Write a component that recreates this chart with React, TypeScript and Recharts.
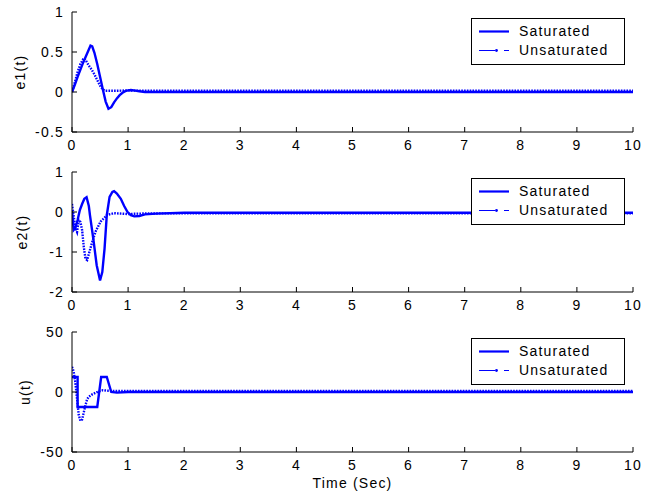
import React from 'react';
import { LineChart, Line, XAxis, YAxis, Legend, Label } from 'recharts';

const BLUE = '#0000ff';
const FONT = '"Liberation Sans", Arial, Helvetica, sans-serif';

const timeTicks = [0, 1, 2, 3, 4, 5, 6, 7, 8, 9, 10];
const e1Ticks = [-0.5, 0, 0.5, 1];
const e2Ticks = [-2, -1, 0, 1];
const uTicks = [-50, 0, 50];
const seriesNames = ['Saturated', 'Unsaturated'];
const yLabels = ['e1(t)', 'e2(t)', 'u(t)'];
const xTitle = 'Time (Sec)';

// e1(t)
const e1SatT = [0, 0.05, 0.1, 0.15, 0.2, 0.25, 0.3, 0.33, 0.36, 0.4, 0.45, 0.5, 0.55, 0.6, 0.65, 0.7, 0.75, 0.8, 0.85, 0.9, 0.95, 1.0, 1.05, 1.1, 1.2, 1.3, 2, 10];
const e1SatV = [0, 0.09, 0.19, 0.28, 0.37, 0.45, 0.53, 0.58, 0.57, 0.49, 0.35, 0.19, 0.03, -0.12, -0.21, -0.19, -0.13, -0.08, -0.04, -0.01, 0.01, 0.02, 0.025, 0.02, 0.01, 0, 0, 0];
const e1UnsatT = [0, 0.05, 0.1, 0.15, 0.2, 0.22, 0.25, 0.3, 0.35, 0.4, 0.45, 0.5, 0.55, 0.6, 0.8, 1.0, 1.2, 2, 10];
const e1UnsatV = [0, 0.12, 0.25, 0.35, 0.41, 0.42, 0.39, 0.33, 0.28, 0.22, 0.15, 0.08, 0.03, 0.015, 0.015, 0.02, 0.015, 0.015, 0.015];

// e2(t)
const e2SatT = [0, 0.03, 0.06, 0.1, 0.14, 0.18, 0.22, 0.26, 0.3, 0.32, 0.38, 0.44, 0.5, 0.54, 0.58, 0.62, 0.67, 0.72, 0.75, 0.8, 0.87, 0.93, 0.99, 1.05, 1.11, 1.2, 1.3, 1.5, 2, 10];
const e2SatV = [0.05, -0.45, -0.4, -0.2, 0.05, 0.2, 0.33, 0.37, 0.15, -0.08, -0.67, -1.33, -1.71, -1.5, -0.92, -0.08, 0.38, 0.5, 0.52, 0.46, 0.33, 0.15, 0, -0.08, -0.11, -0.1, -0.06, -0.04, -0.02, -0.02];
const e2UnsatT = [0, 0.03, 0.06, 0.09, 0.12, 0.15, 0.18, 0.21, 0.24, 0.27, 0.3, 0.33, 0.36, 0.42, 0.51, 0.63, 0.75, 1.0, 1.2, 2, 10];
const e2UnsatV = [0.2, -0.1, -0.4, -0.5, -0.2, -0.25, -0.45, -0.87, -1.17, -1.2, -1.05, -0.9, -0.75, -0.49, -0.24, -0.07, -0.03, -0.05, -0.04, -0.03, -0.03];

// u(t)
const uSatT = [0, 0.1, 0.1, 0.45, 0.52, 0.62, 0.7, 0.8, 1.0, 10];
const uSatV = [12.5, 12.5, -12.5, -12.5, 12.5, 12.5, 0, -0.5, 0, 0];
const uUnsatT = [0, 0.03, 0.06, 0.09, 0.12, 0.15, 0.18, 0.21, 0.24, 0.27, 0.3, 0.36, 0.45, 0.55, 0.65, 0.8, 1.0, 10];
const uUnsatV = [21, 17, 8, -6, -19, -24, -23, -17, -11, -6, -4, -2, 0, 1.5, 1, 0.8, 0.8, 0.8];

const zip = (ts: number[], vs: number[]) => ts.map((t, i) => ({ t, v: vs[i] }));

const axisStyle = { stroke: '#000', strokeWidth: 1 };
const tickStyle = { fill: '#000', fontSize: 14, fontFamily: FONT };

const LegendBox = () => (
  <svg width={155} height={48} style={{ display: 'block', letterSpacing: '1.2px' }}>
    <rect x={0.5} y={0.5} width={153} height={46} fill="#fff" stroke="#000" strokeWidth={1} />
    <line x1={8} y1={13.5} x2={38} y2={13.5} stroke={BLUE} strokeWidth={2.2} />
    <text x={48} y={18} fontSize={14} fontFamily={FONT} fill="#000">{seriesNames[0]}</text>
    <line x1={8} y1={32.5} x2={24} y2={32.5} stroke={BLUE} strokeWidth={1} />
    <circle cx={25.5} cy={32.5} r={1.4} fill={BLUE} />
    <line x1={33} y1={32.5} x2={38} y2={32.5} stroke={BLUE} strokeWidth={1} />
    <text x={48} y={37} fontSize={14} fontFamily={FONT} fill="#000">{seriesNames[1]}</text>
  </svg>
);

type PanelProps = {
  top: number;
  height: number;
  xAxisHeight: number;
  yLabel: string;
  yLabelX: number;
  yDomain: [number, number];
  yTicks: number[];
  sat: { t: number; v: number }[];
  unsat: { t: number; v: number }[];
  showTitle?: boolean;
};

function Panel({ top, height, xAxisHeight, yLabel, yLabelX, yDomain, yTicks, sat, unsat, showTitle }: PanelProps) {
  return (
    <div style={{ position: 'absolute', left: 0, top, letterSpacing: '1.2px', fontFamily: FONT }}>
      <LineChart width={656} height={height} margin={{ top: 12, right: 23, bottom: 0, left: 0 }}>
        <XAxis
          dataKey="t"
          type="number"
          domain={[0, 10]}
          ticks={timeTicks}
          interval={0}
          allowDataOverflow
          tickSize={-5}
          tickMargin={13}
          tick={tickStyle}
          axisLine={axisStyle}
          tickLine={axisStyle}
          height={xAxisHeight}
        >
          {showTitle ? (
            <Label
              content={(p: any) => {
                const vb = p.viewBox || { x: 72, y: 132, width: 561 };
                return (
                  <text x={vb.x + vb.width / 2} y={vb.y + 36} textAnchor="middle" fontSize={14} fontFamily={FONT} fill="#000">
                    {xTitle}
                  </text>
                );
              }}
            />
          ) : null}
        </XAxis>
        <YAxis
          type="number"
          domain={yDomain}
          ticks={yTicks}
          interval={0}
          allowDataOverflow
          width={72}
          tickSize={-5}
          tickMargin={13}
          tick={tickStyle}
          axisLine={axisStyle}
          tickLine={axisStyle}
        >
          <Label
            content={(p: any) => {
              const vb = p.viewBox || { y: 12, height: 120 };
              const cy = vb.y + vb.height / 2;
              return (
                <text
                  x={yLabelX}
                  y={cy}
                  transform={`rotate(-90, ${yLabelX}, ${cy})`}
                  textAnchor="middle"
                  dominantBaseline="central"
                  fontSize={14}
                  fontFamily={FONT}
                  fill="#000"
                >
                  {yLabel}
                </text>
              );
            }}
          />
        </YAxis>
        <Legend
          layout="horizontal"
          verticalAlign="middle"
          align="center"
          wrapperStyle={{ left: 471, top: 18, width: 155, height: 48, lineHeight: 0 }}
          content={() => <LegendBox />}
        />
        <Line
          data={sat}
          dataKey="v"
          name={seriesNames[0]}
          type="linear"
          stroke={BLUE}
          strokeWidth={2.4}
          dot={false}
          activeDot={false}
          isAnimationActive={false}
        />
        <Line
          data={unsat}
          dataKey="v"
          name={seriesNames[1]}
          type="linear"
          stroke={BLUE}
          strokeWidth={2.4}
          strokeDasharray="1.6 1.2"
          dot={false}
          activeDot={false}
          isAnimationActive={false}
        />
      </LineChart>
    </div>
  );
}

export default function App() {
  return (
    <div style={{ position: 'absolute', left: 0, top: 0, width: 656, height: 503, background: '#fff' }}>
      <Panel top={0} height={160} xAxisHeight={28} yLabel={yLabels[0]} yLabelX={20} yDomain={[-0.5, 1]} yTicks={e1Ticks} sat={zip(e1SatT, e1SatV)} unsat={zip(e1UnsatT, e1UnsatV)} />
      <Panel top={160} height={160} xAxisHeight={28} yLabel={yLabels[1]} yLabelX={22} yDomain={[-2, 1]} yTicks={e2Ticks} sat={zip(e2SatT, e2SatV)} unsat={zip(e2UnsatT, e2UnsatV)} />
      <Panel top={320} height={183} xAxisHeight={51} yLabel={yLabels[2]} yLabelX={25} yDomain={[-50, 50]} yTicks={uTicks} sat={zip(uSatT, uSatV)} unsat={zip(uUnsatT, uUnsatV)} showTitle />
    </div>
  );
}
